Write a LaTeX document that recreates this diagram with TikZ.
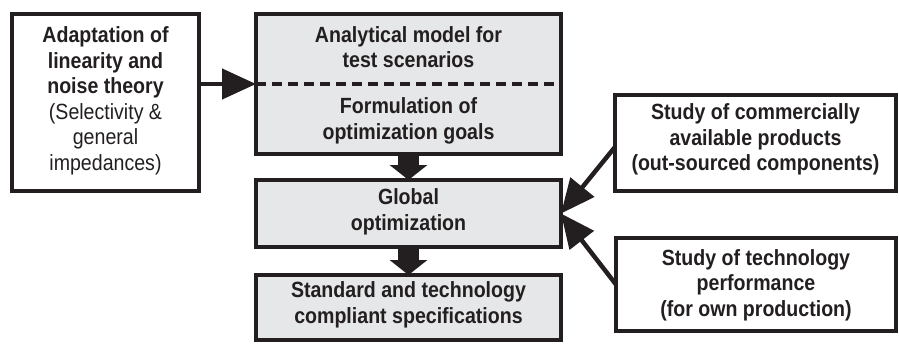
\documentclass[tikz,border=0pt]{standalone}
\usepackage{fontspec}
\setmainfont{Liberation Sans}[FakeStretch=0.89]
\usetikzlibrary{arrows.meta}
\definecolor{ink}{HTML}{231F20}
\definecolor{boxfill}{HTML}{E6E7E8}
\tikzset{
  box/.style={draw=ink, line width=4.5pt, inner sep=0pt, outer sep=0pt},
  greybox/.style={box, fill=boxfill},
  txt/.style={text=ink, align=center, font=\bfseries\fontsize{22}{25.5}\selectfont, inner sep=0pt},
  blockarrow/.style={draw=ink, line width=21pt, -{Triangle[length=15pt,width=37pt]}},
  thinarrow/.style={draw=ink, line width=4.5pt, -{Triangle[length=34pt,width=30pt]}},
}
\begin{document}
\begin{tikzpicture}[x={(1pt,0)}, y={(0,-1pt)}]
\useasboundingbox (0,0) rectangle (899,343);
% boxes
\node[box, minimum width=187pt, minimum height=177pt] (left) at (105.5,102.5) {};
\node[greybox, minimum width=305pt, minimum height=140pt] (top) at (408.5,84) {};
\node[greybox, minimum width=305pt, minimum height=67pt] (global) at (408.5,213.5) {};
\node[greybox, minimum width=305pt, minimum height=65pt] (bottom) at (408.5,307.5) {};
\node[box, minimum width=281pt, minimum height=96pt] (right1) at (755.5,143) {};
\node[box, minimum width=280pt, minimum height=93pt] (right2) at (756,284.5) {};
% dashed separator
\draw[ink, line width=3.5pt, dash pattern=on 10pt off 6pt] (top.west) -- (top.east);
% texts
\node[txt] (lefttxt) at (105.5,101) {Adaptation of\\linearity and\\noise theory\\{\mdseries(Selectivity \&}\\{\mdseries general}\\{\mdseries impedances)}};
\node[txt] (topA) at (408.5,47) {Analytical model for\\test scenarios};
\node[txt] (topB) at (408.5,121) {Formulation of\\optimization goals};
\node[txt] (globaltxt) at (408.5,212) {Global\\optimization};
\node[txt] (bottomtxt) at (408.5,305) {Standard and technology\\compliant specifications};
\node[txt] (r1txt) at (755.5,139.5) {Study of commercially\\available products\\(out-sourced components)};
\node[txt] (r2txt) at (756,285) {Study of technology\\performance\\(for own production)};
% connectors
\draw[thinarrow] (left.east |- top.west) -- (top.west);
\draw[blockarrow] (top.south) -- (global.north);
\draw[blockarrow] (global.south) -- (bottom.north);
\draw[thinarrow] ([yshift=-4pt]right1.west) -- (global.east);
\draw[thinarrow] (right2.west) -- (global.east);
\end{tikzpicture}
\end{document}
